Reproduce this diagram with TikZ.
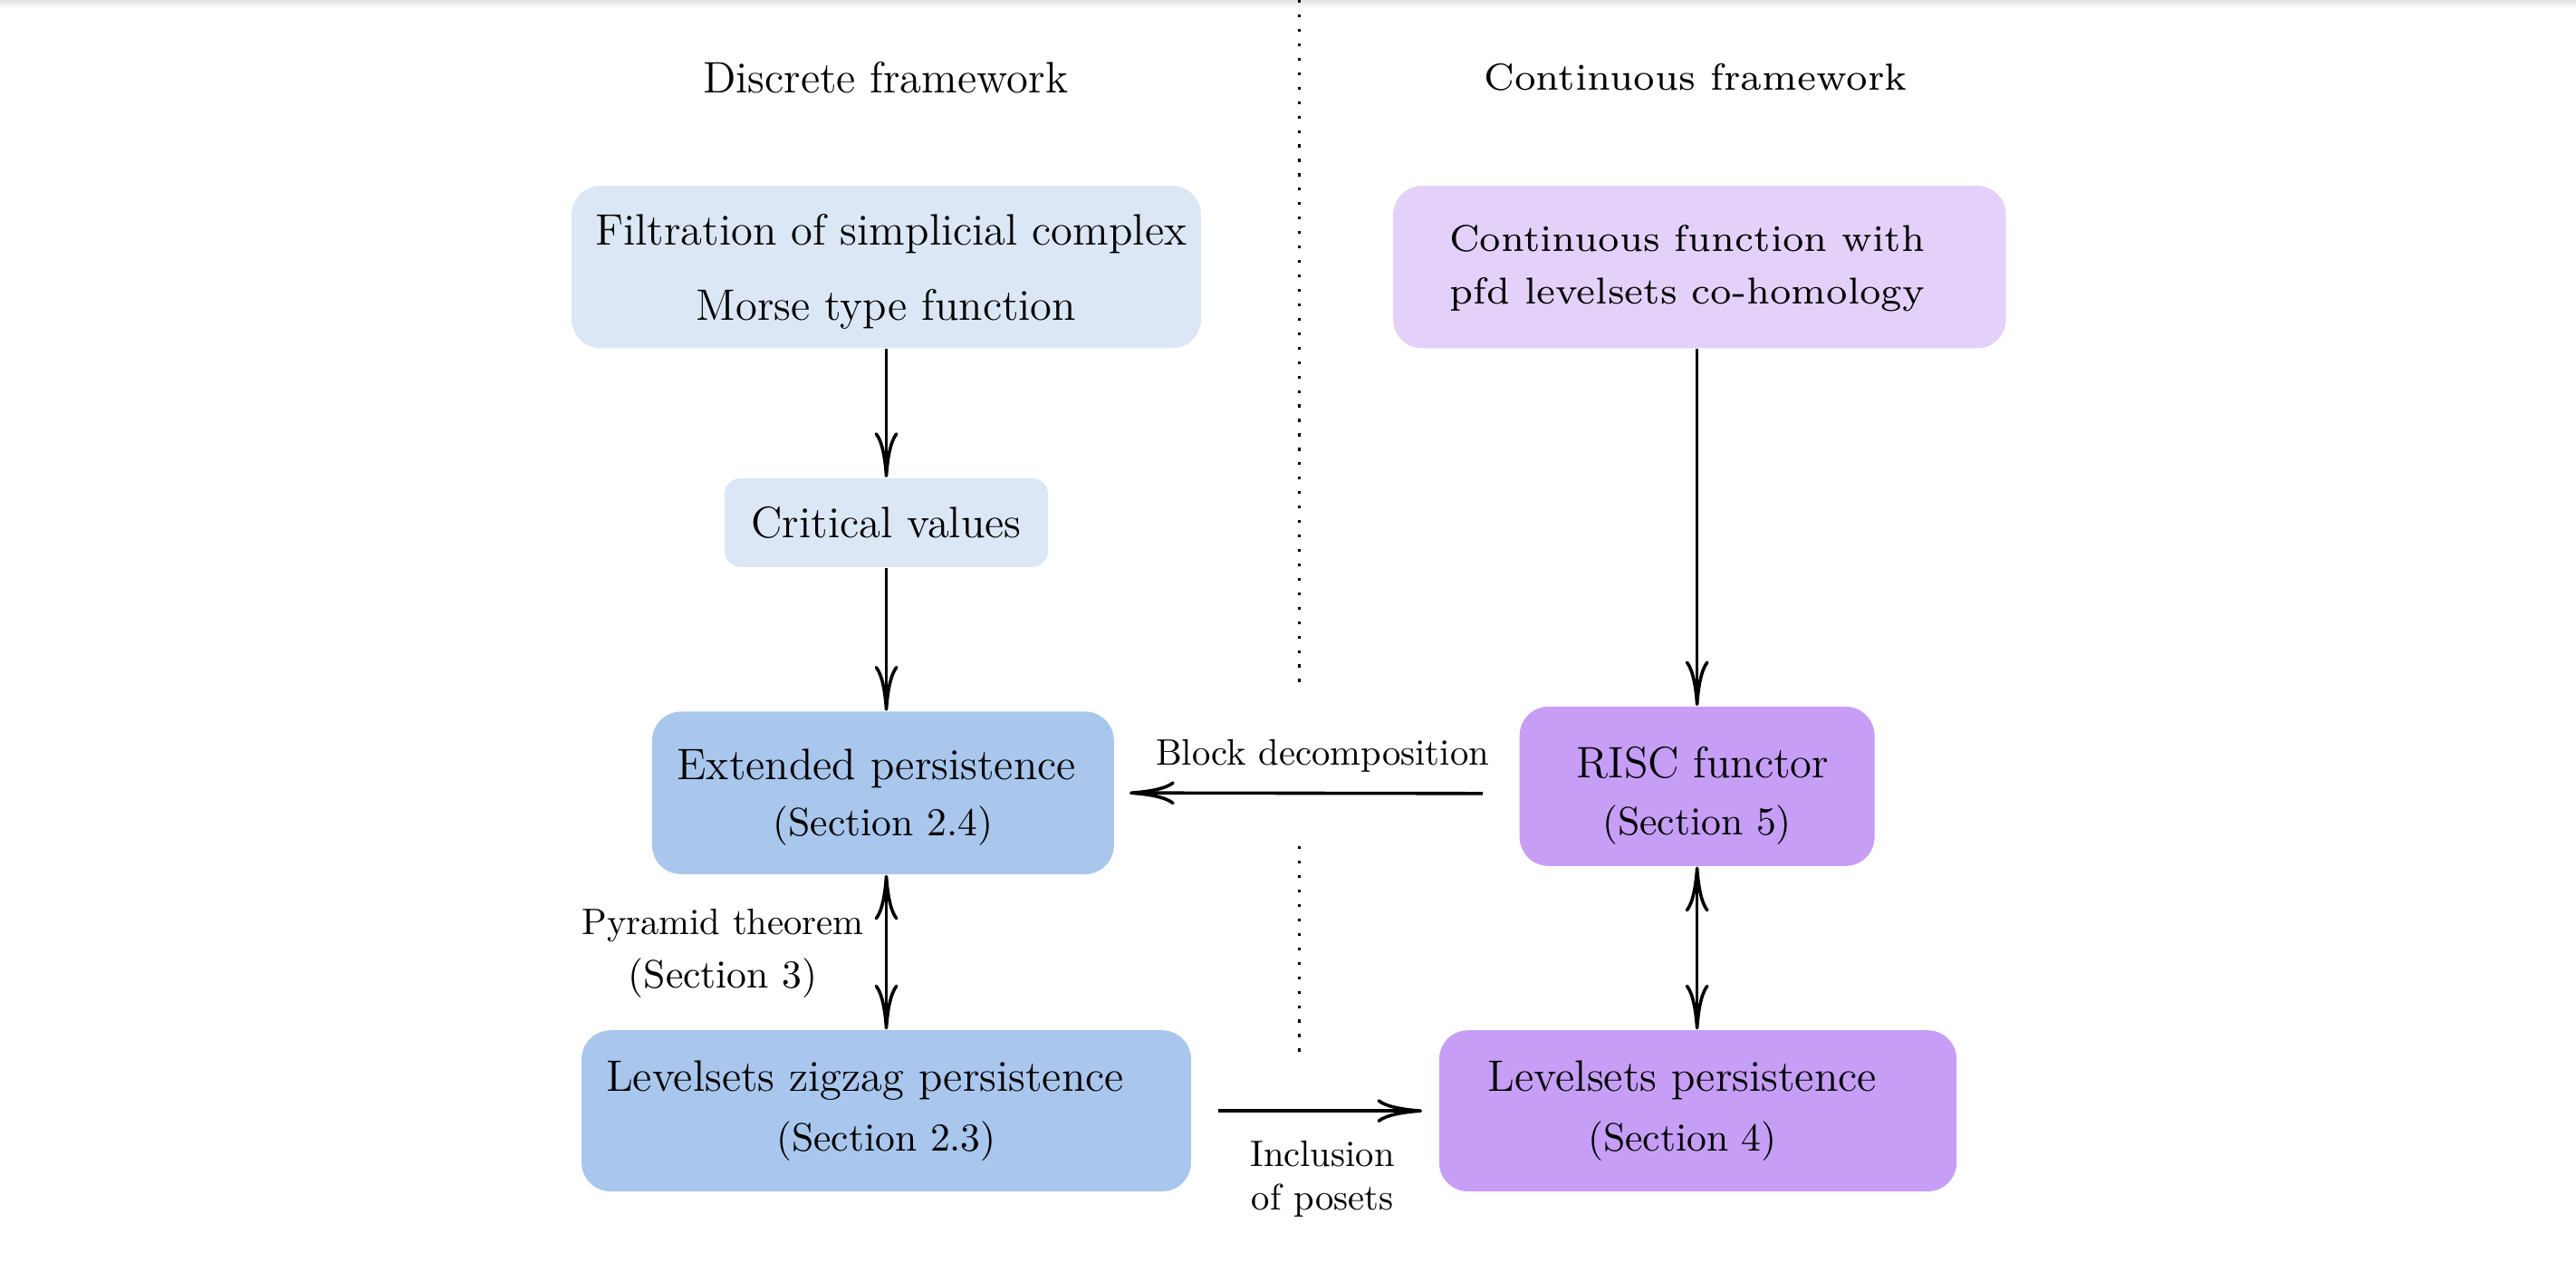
\documentclass[tikz,border=0pt]{standalone}
\usepackage{graphicx}
\usetikzlibrary{arrows.meta}
\definecolor{lblue}{HTML}{DCE7F6}
\definecolor{mblue}{HTML}{A9C6EC}
\definecolor{lpurp}{HTML}{E3D1FA}
\definecolor{mpurp}{HTML}{C69EF6}
\newcommand\bigf{\fontsize{12.2}{14.7}\selectfont}
\newcommand\secf{\fontsize{10.95}{13.6}\selectfont}
\newcommand\labf{\fontsize{10.2}{12.2}\selectfont}
\newcommand\widef{\fontsize{7}{9.84}\selectfont}
\newcommand\lift[1]{\rule{0pt}{#1}}
\begin{document}
\begin{tikzpicture}[x=0.455pt,y=-0.455pt,
  box/.style={rounded corners=8pt, inner sep=0pt, align=center, text=black, font=\bigf},
  tipc/.tip={Computer Modern Rightarrow[length=12.5pt,width=6.5pt]},
  arr/.style={line width=0.9pt, -tipc},
  darr/.style={line width=0.9pt, tipc-tipc},
  sepline/.style={line width=0.8pt, dash pattern=on 0.8pt off 3.2pt},
  lab/.style={inner sep=0pt, align=center, font=\labf}]
\fill[white] (0,0) rectangle (1568,774);
\shade[top color=black!12, bottom color=white] (0,0) rectangle (1568,5);
\path[use as bounding box] (0,0) rectangle (1568,774);

% titles
\node[font=\bigf, inner sep=0pt] (dt) at (539,47) {Discrete framework};
\node[inner sep=0pt] (ct) at (1032,47) {\scalebox{1.49}{\widef Continuous framework}};

% separator
\coordinate (da) at (791,0);
\coordinate (db) at (791,420);
\coordinate (dc) at (791,515);
\coordinate (dd) at (791,640);
\draw[sepline] (da) -- (db);
\draw[sepline] (dc) -- (dd);

% left column
\node[box, fill=lblue, minimum width=174.3pt, minimum height=45pt] (fil) at (539.5,162.5)
  {\lift{11.1pt}\kern2.7pt Filtration of simplicial complex\\[6pt]Morse type function};
\node[box, fill=lblue, rounded corners=4.5pt, minimum width=89.6pt, minimum height=24.6pt] (crit) at (539.5,318)
  {Critical values};
\node[box, fill=mblue, minimum width=127.9pt, minimum height=45pt] (ext) at (537.5,482.5)
  {\lift{11pt}Extended persistence\kern3.6pt\\[1pt]{\secf (Section 2.4)}};
\node[box, fill=mblue, minimum width=168.8pt, minimum height=44.6pt] (zz) at (539.5,676)
  {Levelsets zigzag persistence\kern11.8pt\\[2pt]{\secf (Section 2.3)}};

% right column
\node[box, fill=lpurp, minimum width=169.7pt, minimum height=45pt] (cf) at (1034.5,162.5)
  {\scalebox{1.48}{\widef\begin{tabular}{@{}c@{}}Continuous function with\\pfd levelsets co-homology\end{tabular}}\kern6.8pt};
\node[box, fill=mpurp, minimum width=98.3pt, minimum height=44.1pt] (risc) at (1033,478.5)
  {\lift{13.8pt}\kern3.2pt RISC functor\\[1pt]{\secf (Section 5)}};
\node[box, fill=mpurp, minimum width=143.3pt, minimum height=44.6pt] (lp) at (1033.5,676)
  {Levelsets persistence\kern8.6pt\\[2pt]{\secf (Section 4)\kern8.6pt}};

% labels
\node[lab] (bd) at (805,460) {Block decomposition};
\node[lab] (pt) at (440,580) {Pyramid theorem\\[2.6pt]{\secf (Section 3)}};
\node[lab] (ip) at (805,717.5) {Inclusion\\of posets};

% connectors
\draw[arr] (fil.south) -- (crit.north);
\draw[arr] (crit.south) -- (crit.south |- ext.north);
\draw[darr] (crit.south |- ext.south) -- (crit.south |- zz.north);
\draw[arr] (risc.north |- cf.south) -- (risc.north);
\draw[darr] (risc.south) -- (risc.south |- lp.north);
\draw[arr, shorten <=10pt, shorten >=4.1pt] ([yshift=-2pt]risc.west) -- (ext.east);
\draw[arr, shorten <=7.3pt, shorten >=4.5pt] (zz.east) -- (lp.west);
\end{tikzpicture}
\end{document}
